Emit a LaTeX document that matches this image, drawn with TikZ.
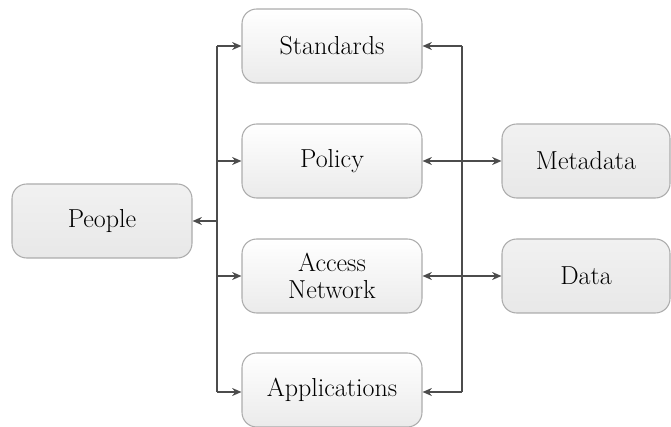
\documentclass[tikz,border=0pt]{standalone}
\usetikzlibrary{arrows.meta}
\begin{document}
\begin{tikzpicture}[x=0.75pt,y=-0.75pt,
  box/.style={draw=gray!65,line width=0.8pt,rounded corners=11pt,minimum width=135pt,minimum height=55.5pt,align=center,font=\fontsize{19.5}{22}\selectfont,text=black},
  midbox/.style={box,top color=white,bottom color=gray!16},
  sidebox/.style={box,top color=gray!11,bottom color=gray!18},
  conn/.style={draw=black!70,line width=1pt},
  arr/.style={conn,-{Stealth[length=7pt,width=6pt]}},
  darr/.style={conn,{Stealth[length=7pt,width=6pt]}-{Stealth[length=7pt,width=6pt]}}]
\useasboundingbox (0,0) rectangle (671,427);
\node[sidebox] (people) at (102,221) {People};
\node[midbox] (std) at (332,46) {Standards};
\node[midbox] (pol) at (332,161) {Policy};
\node[midbox] (acc) at (332,276) {Access\\[-2pt]Network};
\node[midbox] (app) at (332,390) {Applications};
\node[sidebox,minimum width=126pt] (meta) at (586,161) {Metadata};
\node[sidebox,minimum width=126pt] (data) at (586,276) {Data};
\coordinate (lt) at (217,46);
\coordinate (lb) at (217,392);
\coordinate (rt) at (462,46);
\coordinate (rb) at (462,392);
\draw[conn] (lt) -- (lb);
\draw[conn] (rt) -- (rb);
\draw[arr] (people.east -| lt) -- (people.east);
\draw[arr] (std.west -| lt) -- (std.west);
\draw[arr] (pol.west -| lt) -- (pol.west);
\draw[arr] (acc.west -| lt) -- (acc.west);
\draw[arr] (lb) -- (lb -| app.west);
\draw[arr] (rt) -- (std.east);
\draw[arr] (rb) -- (rb -| app.east);
\draw[darr] (pol.east) -- (meta.west);
\draw[darr] (acc.east) -- (data.west);
\end{tikzpicture}
\end{document}
